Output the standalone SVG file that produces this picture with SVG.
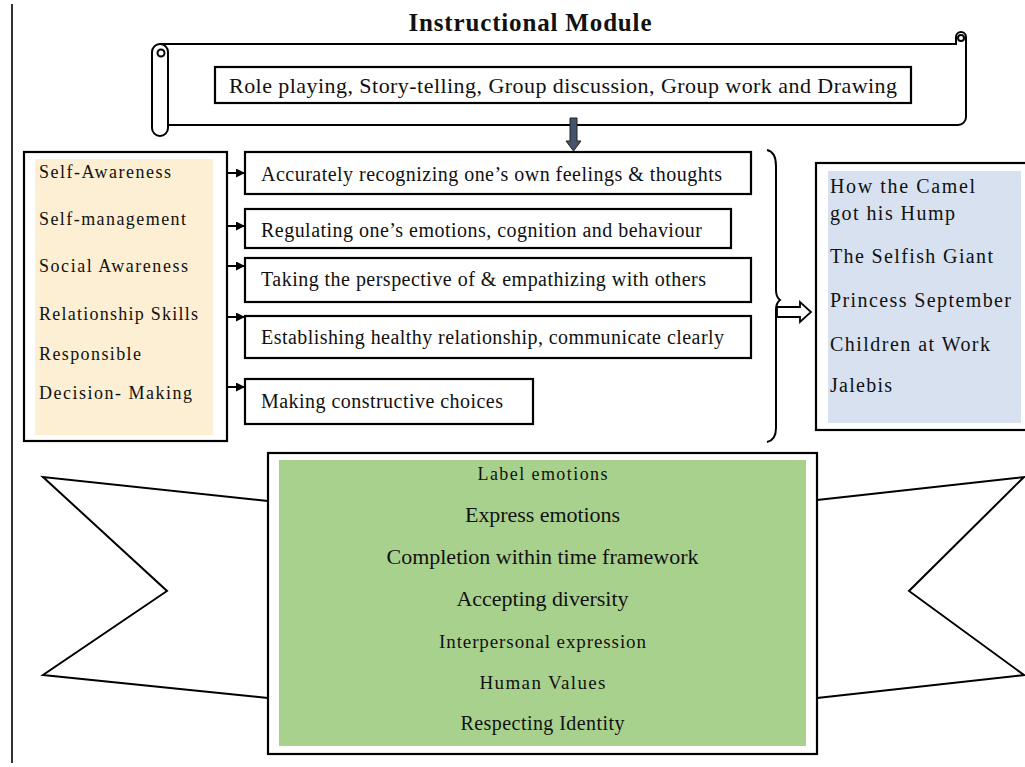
<svg xmlns="http://www.w3.org/2000/svg" width="1025" height="767" viewBox="0 0 1025 767">
<style>
text{font-family:"Liberation Serif","Times New Roman",serif;fill:#111}
.ln{fill:none;stroke:#000;stroke-width:2}
.box{fill:#fff;stroke:#000;stroke-width:2.2}
.lbl{font-size:18px}
.mid{font-size:20px}
.rt{font-size:20px}
.gr{text-anchor:middle}
</style>
<defs>
<marker id="ah" markerUnits="userSpaceOnUse" markerWidth="10" markerHeight="10" refX="9" refY="4.5" orient="auto">
<path d="M0,0 L9,4.5 L0,9 Z" fill="#000"/>
</marker>
</defs>
<rect width="1025" height="767" fill="#fff"/>
<line x1="12" y1="4" x2="12" y2="763" stroke="#333" stroke-width="2"/>

<g id="title">
<text x="530" y="31" text-anchor="middle" font-size="25" font-weight="bold" textLength="243">Instructional Module</text>
</g>

<g id="scroll">
<path class="ln" d="M160,44 H956 V37 A5,5 0 0 1 966,37 V117 A8,8 0 0 1 958,125 H168"/>
<path class="ln" d="M152,52 A8,8 0 0 1 168,52 V128 A8,8 0 0 1 152,128 Z" fill="#fff"/>
<circle cx="161" cy="53" r="3.5" fill="none" stroke="#000" stroke-width="2"/>
<circle cx="961" cy="38" r="3" fill="none" stroke="#000" stroke-width="2"/>
<rect x="215" y="67" width="696" height="36" class="box"/>
<text x="563" y="93" text-anchor="middle" font-size="22" textLength="668">Role playing, Story-telling, Group discussion, Group work and Drawing</text>
</g>

<g id="competencies">
<rect x="24" y="152" width="203" height="289" class="box"/>
<rect x="35" y="159" width="178" height="276" fill="#FCEFD3"/>
<text class="lbl" x="39" y="178" textLength="132">Self-Awareness</text>
<text class="lbl" x="39" y="225" textLength="147">Self-management</text>
<text class="lbl" x="39" y="272" textLength="149">Social Awareness</text>
<text class="lbl" x="39" y="320" textLength="159">Relationship Skills</text>
<text class="lbl" x="39" y="360" textLength="102">Responsible</text>
<text class="lbl" x="39" y="399" textLength="153">Decision- Making</text>
</g>

<g id="desc1"><rect x="245" y="152" width="506" height="42" class="box"/>
<text class="mid" x="261" y="181" textLength="461">Accurately recognizing one’s own feelings &amp; thoughts</text></g>
<g id="desc2"><rect x="245" y="209" width="486" height="39" class="box"/>
<text class="mid" x="261" y="237" textLength="441">Regulating one’s emotions, cognition and behaviour</text></g>
<g id="desc3"><rect x="245" y="258" width="506" height="44" class="box"/>
<text class="mid" x="261" y="286" textLength="445">Taking the perspective of &amp; empathizing with others</text></g>
<g id="desc4"><rect x="245" y="316" width="506" height="42" class="box"/>
<text class="mid" x="261" y="344" textLength="463">Establishing healthy relationship, communicate clearly</text></g>
<g id="desc5"><rect x="245" y="379" width="288" height="45" class="box"/>
<text class="mid" x="261" y="408" textLength="242">Making constructive choices</text></g>

<g id="brace">
<path class="ln" d="M767,150 Q776,152 776,166 V290 Q776,297 780,300 Q776,303 776,310 V428 Q776,440 767,442"/>
</g>

<g id="stories">
<rect x="816" y="163" width="212" height="267" class="box" stroke-width="2.5"/>
<rect x="828" y="171" width="193" height="252" fill="#D7E1F0"/>
<text class="rt" x="830" y="193" textLength="145">How the Camel</text>
<text class="rt" x="830" y="220" textLength="125">got his Hump</text>
<text class="rt" x="830" y="263" textLength="163">The Selfish Giant</text>
<text class="rt" x="830" y="307" textLength="181">Princess September</text>
<text class="rt" x="830" y="351" textLength="160">Children at Work</text>
<text class="rt" x="830" y="392" textLength="62">Jalebis</text>
</g>

<g id="flag-left"><polyline class="ln" points="268,501 43,477 167,591 43,675 268,698"/></g>
<g id="flag-right"><polyline class="ln" points="817,500 1024,477 909,591 1024,675 817,698"/></g>

<g id="outcomes">
<rect x="268" y="453" width="549" height="301" class="box" stroke-width="2.5"/>
<rect x="279" y="460" width="527" height="286" fill="#A9D18E"/>
<text class="gr" x="542.5" y="480" font-size="18" textLength="130">Label emotions</text>
<text class="gr" x="542.5" y="522" font-size="22" textLength="155">Express emotions</text>
<text class="gr" x="542.5" y="564" font-size="22" textLength="312">Completion within time framework</text>
<text class="gr" x="542.5" y="606" font-size="22" textLength="172">Accepting diversity</text>
<text class="gr" x="542.5" y="648" font-size="19" textLength="207">Interpersonal expression</text>
<text class="gr" x="542.5" y="689" font-size="19" textLength="126">Human Values</text>
<text class="gr" x="542.5" y="730" font-size="20" textLength="164">Respecting Identity</text>
</g>

<g id="connectors">
<line x1="227" y1="173" x2="245" y2="173" stroke="#000" stroke-width="2" marker-end="url(#ah)"/>
<line x1="227" y1="226" x2="245" y2="226" stroke="#000" stroke-width="2" marker-end="url(#ah)"/>
<line x1="227" y1="266" x2="245" y2="266" stroke="#000" stroke-width="2" marker-end="url(#ah)"/>
<line x1="227" y1="317" x2="245" y2="317" stroke="#000" stroke-width="2" marker-end="url(#ah)"/>
<line x1="227" y1="387" x2="245" y2="387" stroke="#000" stroke-width="2" marker-end="url(#ah)"/>
<path d="M570,118 H577 V141 H581 L573.5,151 L566,141 H570 Z" fill="#44546A" stroke="#222" stroke-width="1"/>
<path d="M777,307 H800 V302 L811,312 L800,322 V317 H777 Z" fill="#fff" stroke="#000" stroke-width="1.8"/>
</g>
</svg>
